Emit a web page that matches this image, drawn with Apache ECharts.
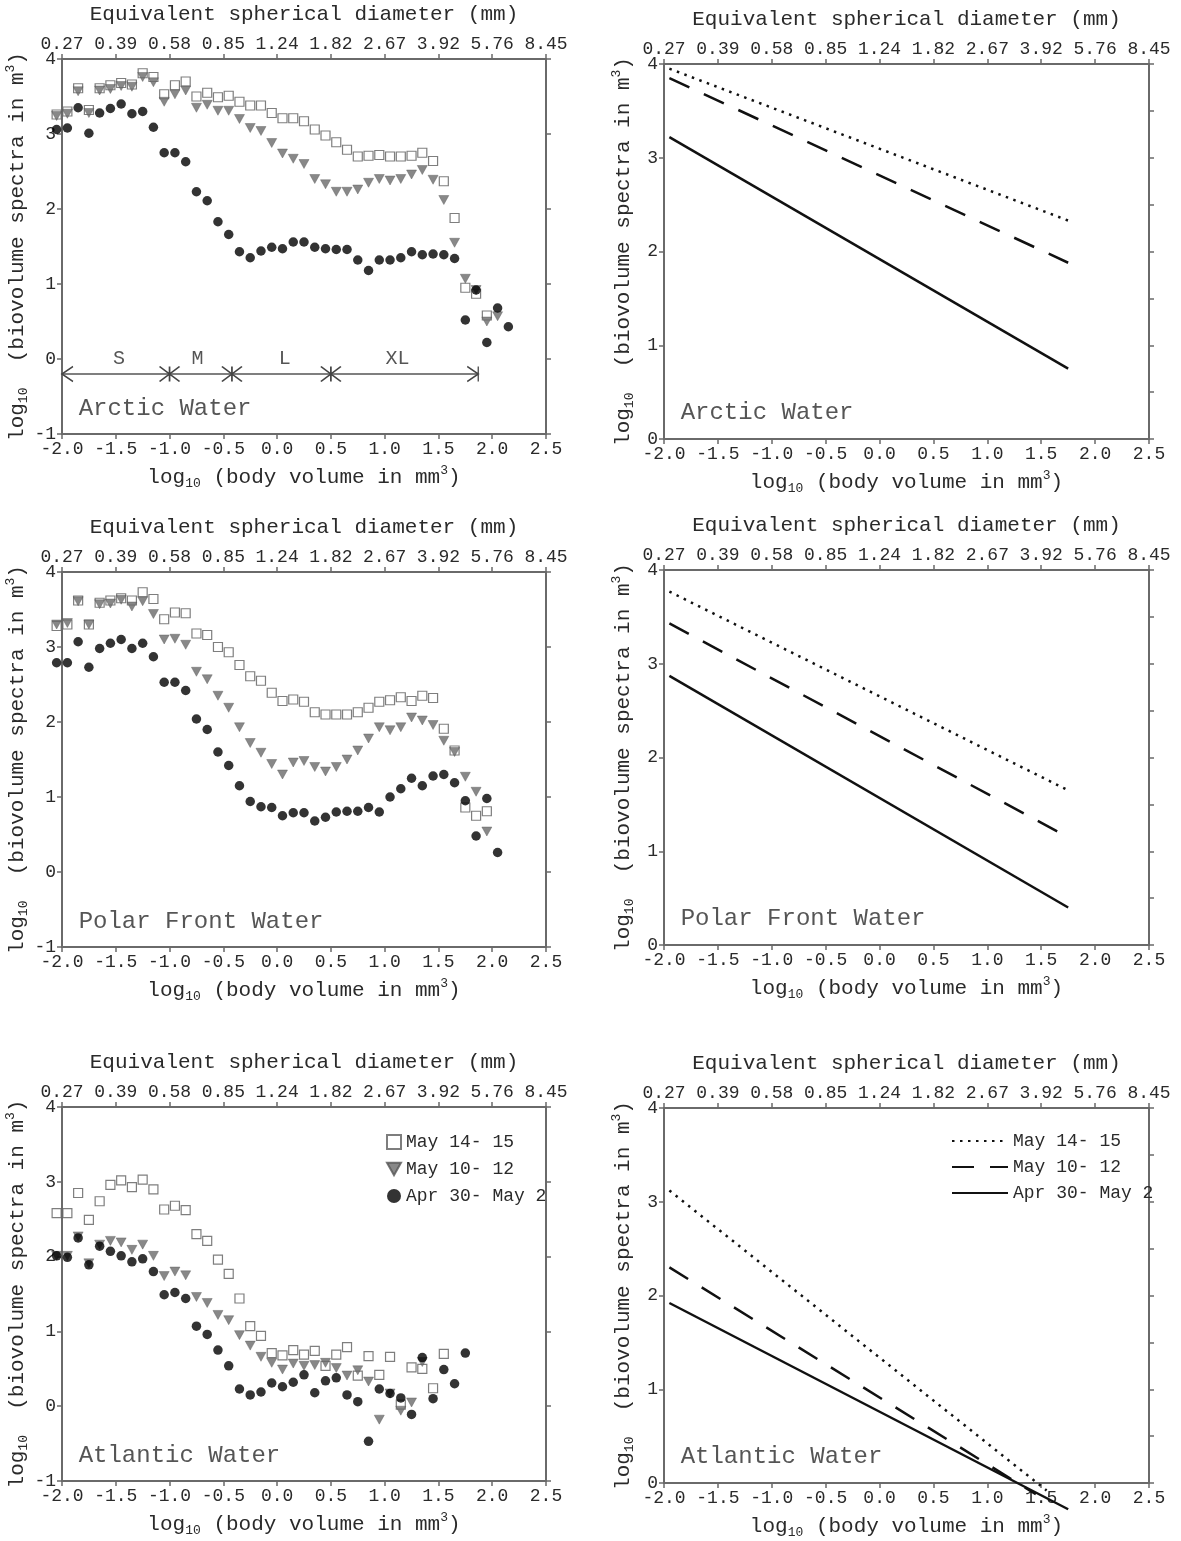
<!DOCTYPE html>
<html>
<head>
    <meta charset="utf-8">
    <title>Biovolume spectra</title>
    <script src="https://cdn.jsdelivr.net/npm/echarts@6/dist/echarts.min.js"></script>
    <style>
        html, body { margin: 0; padding: 0; background: #fff; }
        #main { width: 1181px; height: 1541px; }
    </style>
</head>
<body>
    <div id="main"></div>

    <script type="text/javascript">

        // size-bin centres, log10 body volume (mm3)
        var binCentres = [-2.05, -1.95, -1.85, -1.75, -1.65, -1.55, -1.45, -1.35, -1.25, -1.15,
                          -1.05, -0.95, -0.85, -0.75, -0.65, -0.55, -0.45, -0.35, -0.25, -0.15,
                          -0.05, 0.05, 0.15, 0.25, 0.35, 0.45, 0.55, 0.65, 0.75, 0.85,
                          0.95, 1.05, 1.15, 1.25, 1.35, 1.45, 1.55, 1.65, 1.75, 1.85,
                          1.95, 2.05, 2.15];

        var esdLabels = ['0.27', '0.39', '0.58', '0.85', '1.24', '1.82', '2.67', '3.92', '5.76', '8.45'];

        var seriesNames = ['May 14- 15', 'May 10- 12', 'Apr 30- May 2'];
        var waterNames = ['Arctic Water', 'Polar Front Water', 'Atlantic Water'];

        // Arctic Water
        var arcticMay1415 = [3.26, 3.30, 3.61, 3.32, 3.61, 3.65, 3.68, 3.66, 3.81, 3.76,
                             3.53, 3.65, 3.70, 3.50, 3.55, 3.49, 3.51, 3.43, 3.38, 3.38,
                             3.28, 3.21, 3.21, 3.17, 3.06, 2.98, 2.89, 2.79, 2.70, 2.71,
                             2.72, 2.70, 2.70, 2.71, 2.75, 2.64, 2.37, 1.88, 0.95, 0.87,
                             0.58];
        var arcticMay1012 = [3.24, 3.27, 3.57, 3.28, 3.58, 3.60, 3.64, 3.63, 3.76, 3.69,
                             3.43, 3.53, 3.58, 3.35, 3.39, 3.31, 3.31, 3.20, 3.08, 3.04,
                             2.88, 2.74, 2.67, 2.60, 2.40, 2.33, 2.23, 2.23, 2.26, 2.35,
                             2.40, 2.38, 2.40, 2.46, 2.52, 2.39, 2.12, 1.55, 1.07, 0.92,
                             0.50, 0.57];
        var arcticApr30 = [3.06, 3.08, 3.35, 3.01, 3.28, 3.34, 3.40, 3.27, 3.30, 3.09,
                           2.75, 2.75, 2.63, 2.23, 2.11, 1.83, 1.66, 1.43, 1.35, 1.44,
                           1.49, 1.47, 1.56, 1.56, 1.49, 1.47, 1.46, 1.46, 1.32, 1.18,
                           1.32, 1.32, 1.35, 1.43, 1.39, 1.40, 1.39, 1.34, 0.52, 0.92,
                           0.22, 0.68, 0.43];

        // Polar Front Water
        var polarMay1415 = [3.28, 3.30, 3.62, 3.30, 3.59, 3.62, 3.65, 3.62, 3.73, 3.64,
                            3.37, 3.46, 3.45, 3.18, 3.16, 3.00, 2.93, 2.76, 2.61, 2.55,
                            2.39, 2.28, 2.30, 2.27, 2.13, 2.10, 2.10, 2.10, 2.13, 2.19,
                            2.27, 2.29, 2.33, 2.28, 2.35, 2.32, 1.91, 1.62, 0.86, 0.75,
                            0.81];
        var polarMay1012 = [3.30, 3.32, 3.61, 3.30, 3.57, 3.58, 3.63, 3.54, 3.61, 3.44,
                            3.10, 3.11, 3.03, 2.67, 2.57, 2.35, 2.19, 1.93, 1.72, 1.59,
                            1.44, 1.30, 1.46, 1.48, 1.40, 1.34, 1.40, 1.50, 1.62, 1.78,
                            1.93, 1.89, 1.93, 2.06, 2.02, 1.96, 1.75, 1.60, 1.27, 1.07,
                            0.54];
        var polarApr30 = [2.79, 2.79, 3.07, 2.73, 2.98, 3.05, 3.10, 2.98, 3.05, 2.87,
                          2.53, 2.53, 2.42, 2.04, 1.90, 1.60, 1.42, 1.15, 0.94, 0.87,
                          0.86, 0.75, 0.79, 0.79, 0.68, 0.73, 0.80, 0.81, 0.81, 0.86,
                          0.80, 1.00, 1.11, 1.25, 1.15, 1.28, 1.30, 1.19, 0.95, 0.48,
                          0.98, 0.26];

        // Atlantic Water
        var atlanticMay1415 = [2.58, 2.58, 2.85, 2.49, 2.74, 2.96, 3.02, 2.93, 3.03, 2.90,
                               2.63, 2.68, 2.62, 2.30, 2.21, 1.96, 1.77, 1.44, 1.07, 0.94,
                               0.71, 0.68, 0.75, 0.69, 0.74, 0.54, 0.69, 0.79, 0.41, 0.67,
                               0.42, 0.66, 0.02, 0.52, 0.50, 0.24, 0.70];
        var atlanticMay1012 = [2.01, 2.01, 2.27, 1.91, 2.16, 2.21, 2.19, 2.09, 2.16, 2.01,
                               1.74, 1.80, 1.75, 1.46, 1.38, 1.22, 1.15, 0.95, 0.81, 0.66,
                               0.58, 0.49, 0.57, 0.54, 0.55, 0.58, 0.51, 0.41, 0.48, 0.33,
                               -0.18, 0.17, -0.06, 0.05, 0.59];
        var atlanticApr30 = [2.01, 1.99, 2.25, 1.89, 2.14, 2.07, 2.01, 1.93, 1.97, 1.80,
                             1.49, 1.52, 1.44, 1.07, 0.96, 0.75, 0.54, 0.23, 0.15, 0.19,
                             0.31, 0.26, 0.32, 0.42, 0.18, 0.34, 0.38, 0.15, 0.06, -0.47,
                             0.23, 0.17, 0.11, -0.11, 0.65, 0.10, 0.49, 0.30, 0.71];

        // fitted spectra: end points (x = log10 volume, y = log10 biovolume)
        var arcticFitX = [-1.95, 1.75];
        var arcticFit1415 = [3.95, 2.33];
        var arcticFit1012 = [3.85, 1.88];
        var arcticFit0430 = [3.22, 0.75];

        var polarFitX = [-1.95, 1.75];
        var polarFit1415 = [3.77, 1.65];
        var polarFit1012 = [3.43, 1.15];
        var polarFit0430 = [2.87, 0.40];

        var atlanticFitX1415 = [-1.95, 1.55];
        var atlanticFit1415 = [3.12, -0.08];
        var atlanticFitX1012 = [-1.95, 1.45];
        var atlanticFit1012 = [2.30, -0.12];
        var atlanticFitX0430 = [-1.95, 1.75];
        var atlanticFit0430 = [1.92, -0.28];

        // size classes on the Arctic panel
        var sizeClassEdges = [-2.0, -1.0, -0.42, 0.5, 1.87];
        var sizeClassNames = ['S', 'M', 'L', 'XL'];
        var sizeClassNameX = [-1.47, -0.74, 0.07, 1.12];


        var FONT = 'Liberation Mono';
        var INK = '#2a2a2a';
        var FRAME = '#6a6a6a';

        var grids = [
            {left: 62, top: 59, width: 484, height: 375},
            {left: 664, top: 64, width: 485, height: 375},
            {left: 62, top: 572, width: 484, height: 375},
            {left: 664, top: 570, width: 485, height: 375},
            {left: 62, top: 1107, width: 484, height: 374},
            {left: 664, top: 1108, width: 485, height: 375}
        ];

        var richName = {
            n: {fontFamily: FONT, fontSize: 21, color: INK, lineHeight: 26},
            sub: {fontFamily: FONT, fontSize: 13, color: INK, verticalAlign: 'bottom'},
            sup: {fontFamily: FONT, fontSize: 13, color: INK, verticalAlign: 'top'}
        };
        var xName = '{n|log}{sub|10}{n| (body volume in mm}{sup|3}{n|)}';
        var yName = '{n|log}{sub|10}{n|  (biovolume spectra in m}{sup|3}{n|)}';

        function frameLine() {
            return {show: true, onZero: false, lineStyle: {color: FRAME, width: 2}};
        }
        function ticks() {
            return {show: true, inside: false, length: 5, lineStyle: {color: FRAME, width: 1.5}};
        }
        function tickText(fmt) {
            return {fontFamily: FONT, fontSize: 18, color: INK, margin: 6, formatter: fmt};
        }

        var xAxes = [], yAxes = [];
        grids.forEach(function (g, i) {
            var scatterPanel = i % 2 === 0;
            xAxes.push({
                gridIndex: i, type: 'value', position: 'bottom',
                min: -2, max: 2.5, interval: 0.5,
                axisLine: frameLine(), axisTick: ticks(), splitLine: {show: false},
                axisLabel: tickText(function (v) { return v.toFixed(1); }),
                name: xName, nameLocation: 'middle', nameGap: 30,
                nameTextStyle: {rich: richName}
            });
            xAxes.push({
                gridIndex: i, type: 'value', position: 'top',
                min: -2, max: 2.5, interval: 0.5,
                axisLine: frameLine(), axisTick: ticks(), splitLine: {show: false},
                axisLabel: tickText(function (v) { return esdLabels[Math.round((v + 2) / 0.5)]; }),
                name: 'Equivalent spherical diameter (mm)', nameLocation: 'middle', nameGap: 34,
                nameTextStyle: {fontFamily: FONT, fontSize: 21, color: INK}
            });
            yAxes.push({
                gridIndex: i, type: 'value', position: 'left',
                min: scatterPanel ? -1 : 0, max: 4, interval: 1,
                axisLine: frameLine(), axisTick: ticks(), splitLine: {show: false},
                axisLabel: tickText(function (v) { return String(v); }),
                name: yName, nameLocation: 'middle', nameGap: scatterPanel ? 32 : 28,
                nameTextStyle: {rich: richName}
            });
            yAxes.push({
                gridIndex: i, type: 'value', position: 'right',
                min: scatterPanel ? -1 : 0, max: 4, interval: scatterPanel ? 1 : 0.5,
                axisLine: frameLine(), axisTick: ticks(), splitLine: {show: false},
                axisLabel: {show: false}
            });
        });

        function pairs(xs, ys) {
            return ys.map(function (y, k) { return [xs[k], y]; });
        }

        var markers = [
            {symbol: 'rect', symbolSize: 9,
             itemStyle: {color: '#fff', borderColor: '#5e5e5e', borderWidth: 1.2}},
            {symbol: 'path://M0,0 L10,0 L5,9 Z', symbolSize: [10, 9],
             itemStyle: {color: '#6a6a6a', borderColor: '#555', borderWidth: 0.5}},
            {symbol: 'circle', symbolSize: 9.5,
             itemStyle: {color: '#000'}}
        ];
        var fitStyles = [
            {color: '#111', width: 2.5, type: [2.5, 5.5]},
            {color: '#111', width: 2.5, type: [22, 16]},
            {color: '#111', width: 2.5, type: 'solid'}
        ];

        var series = [];

        function addScatterPanel(panel, sets) {
            sets.forEach(function (vals, j) {
                series.push({
                    type: 'scatter', name: seriesNames[j],
                    xAxisIndex: panel * 2, yAxisIndex: panel * 2,
                    data: pairs(binCentres, vals),
                    symbol: markers[j].symbol, symbolSize: markers[j].symbolSize,
                    itemStyle: markers[j].itemStyle, clip: false, silent: true
                });
            });
        }

        function addFitPanel(panel, xs, sets) {
            sets.forEach(function (vals, j) {
                series.push({
                    type: 'line', name: 'fit ' + seriesNames[j],
                    xAxisIndex: panel * 2, yAxisIndex: panel * 2,
                    data: pairs(xs[j], vals),
                    symbol: 'none', clip: false, silent: true,
                    lineStyle: fitStyles[j], itemStyle: {color: '#111'}
                });
            });
        }

        function addNote(panel, x, y, text, size, pos) {
            series.push({
                type: 'scatter', xAxisIndex: panel * 2, yAxisIndex: panel * 2,
                data: [[x, y]], symbol: 'circle', symbolSize: 1,
                itemStyle: {color: 'rgba(0,0,0,0)'}, silent: true, clip: false,
                label: {show: true, position: pos, distance: 0, formatter: text,
                        fontFamily: FONT, fontSize: size, color: INK}
            });
        }

        addScatterPanel(0, [arcticMay1415, arcticMay1012, arcticApr30]);
        addScatterPanel(2, [polarMay1415, polarMay1012, polarApr30]);
        addScatterPanel(4, [atlanticMay1415, atlanticMay1012, atlanticApr30]);

        addFitPanel(1, [arcticFitX, arcticFitX, arcticFitX], [arcticFit1415, arcticFit1012, arcticFit0430]);
        addFitPanel(3, [polarFitX, polarFitX, polarFitX], [polarFit1415, polarFit1012, polarFit0430]);
        addFitPanel(5, [atlanticFitX1415, atlanticFitX1012, atlanticFitX0430],
                    [atlanticFit1415, atlanticFit1012, atlanticFit0430]);

        // water mass captions
        [0, 1, 2].forEach(function (r) {
            addNote(r * 2, -1.85, -0.66, waterNames[r], 24, 'right');
            addNote(r * 2 + 1, -1.85, 0.28, waterNames[r], 24, 'right');
        });

        // S / M / L / XL size-class bar
        var edgeSymbols = sizeClassEdges.map(function (x, k) {
            var item = {value: [x, -0.2], symbol: 'path://M0,0 L20,15 M20,0 L0,15 M10,0 L10,15',
                        symbolSize: [20, 15]};
            if (k === 0) {
                item.symbol = 'path://M10,0 L0,5 L10,10';
                item.symbolSize = [11, 15];
                item.symbolOffset = [5.5, 0];
            } else if (k === sizeClassEdges.length - 1) {
                item.symbol = 'path://M0,0 L10,5 L0,10 M10,0 L10,10';
                item.symbolSize = [11, 15];
                item.symbolOffset = [-5.5, 0];
            }
            return item;
        });
        series.push({
            type: 'line', xAxisIndex: 0, yAxisIndex: 0, data: edgeSymbols,
            silent: true, clip: false,
            lineStyle: {color: '#555', width: 1.5},
            itemStyle: {color: 'rgba(0,0,0,0)', borderColor: '#444', borderWidth: 1.5}
        });
        sizeClassNames.forEach(function (s, k) {
            addNote(0, sizeClassNameX[k], 0.0, s, 20, 'inside');
        });

        var myChart = echarts.init(document.getElementById('main'));
        myChart.setOption({
            animation: false,
            backgroundColor: '#fff',
            grid: grids,
            xAxis: xAxes,
            yAxis: yAxes,
            legend: [
                {
                    data: seriesNames, orient: 'vertical', left: 381, top: 1128,
                    itemWidth: 14, itemHeight: 14, itemGap: 9, selectedMode: false,
                    textStyle: {fontFamily: FONT, fontSize: 18, color: INK}
                },
                {
                    data: seriesNames.map(function (n) { return 'fit ' + n; }),
                    orient: 'vertical', left: 946, top: 1127,
                    itemWidth: 56, itemHeight: 14, itemGap: 8, selectedMode: false,
                    itemStyle: {opacity: 0, borderWidth: 0},
                    formatter: function (n) { return n.replace('fit ', ''); },
                    textStyle: {fontFamily: FONT, fontSize: 18, color: INK}
                }
            ],
            series: series
        });
    </script>
</body>
</html>
